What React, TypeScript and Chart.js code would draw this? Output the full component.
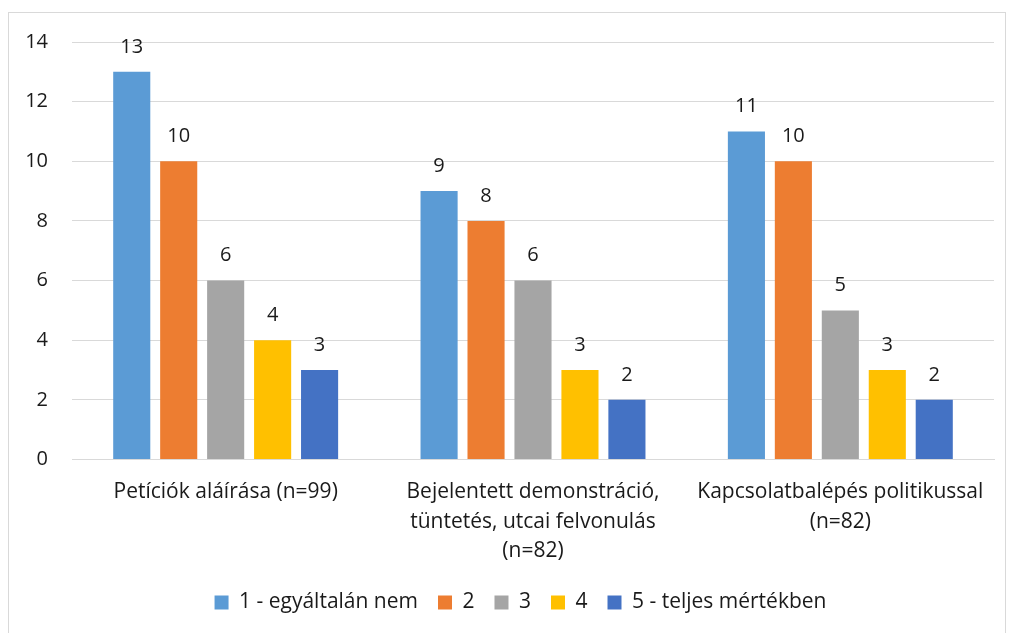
import React, { useEffect, useRef } from "react";
import { Chart, registerables } from "chart.js";

Chart.register(...registerables);

const categories: string[][] = [
  ["Petíciók aláírása (n=99)"],
  ["Bejelentett demonstráció,", "tüntetés, utcai felvonulás", "(n=82)"],
  ["Kapcsolatbalépés politikussal", "(n=82)"],
];
const seriesNames = ["1 - egyáltalán nem", "2", "3", "4", "5 - teljes mértékben"];
const s1 = [13, 9, 11];
const s2 = [10, 8, 10];
const s3 = [6, 6, 5];
const s4 = [4, 3, 3];
const s5 = [3, 2, 2];
const colors = ["#5B9BD5", "#ED7D31", "#A5A5A5", "#FFC000", "#4472C4"];

const FONT = "'Open Sans', Lato, sans-serif";
const TEXT = "#1a1a1a";
const LEGEND_SHIFT_Y = -4;
const LEGEND_SHIFT_X = 14;

const labelPlugin = {
  id: "barLabels",
  afterDatasetsDraw(chart: any) {
    const ctx = chart.ctx;
    ctx.save();
    ctx.font = `20px ${FONT}`;
    ctx.fillStyle = TEXT;
    ctx.textAlign = "center";
    ctx.textBaseline = "middle";
    chart.data.datasets.forEach((ds: any, i: number) => {
      const meta = chart.getDatasetMeta(i);
      meta.data.forEach((bar: any, j: number) => {
        ctx.fillText(String(ds.data[j]), bar.x, bar.y - 25);
      });
    });
    ctx.restore();
  },
};

const legendShiftPlugin = {
  id: "legendShift",
  afterInit(chart: any) {
    const lg = chart.legend;
    if (!lg || lg._shifted) return;
    const orig = lg.draw.bind(lg);
    lg.draw = function (...args: any[]) {
      const ctx = chart.ctx;
      ctx.save();
      ctx.translate(LEGEND_SHIFT_X, LEGEND_SHIFT_Y);
      orig(...args);
      ctx.restore();
    };
    lg._shifted = true;
  },
};

export default function App() {
  const ref = useRef<HTMLCanvasElement | null>(null);
  useEffect(() => {
    if (!ref.current) return;
    const all = [s1, s2, s3, s4, s5];
    const chart = new Chart(ref.current, {
      type: "bar",
      data: {
        labels: categories,
        datasets: all.map((d, i) => ({
          label: seriesNames[i],
          data: d,
          backgroundColor: colors[i],
          borderWidth: 0,
          categoryPercentage: 0.764,
          barPercentage: 0.79,
        })),
      },
      options: {
        animation: false,
        responsive: false,
        maintainAspectRatio: false,
        layout: { padding: { top: 29, left: 10, right: 11, bottom: 24 } },
        plugins: {
          tooltip: { enabled: false },
          legend: {
            position: "bottom",
            labels: {
              boxWidth: 14,
              boxHeight: 14,
              padding: 20,
              color: TEXT,
              font: { family: FONT, size: 21 },
            },
          },
        },
        scales: {
          x: {
            grid: { display: false },
            border: { display: true, color: "#d9d9d9" },
            ticks: {
              color: TEXT,
              font: { family: FONT, size: 21, lineHeight: 1.405 },
              padding: 10,
              maxRotation: 0,
              autoSkip: false,
            },
          },
          y: {
            min: 0,
            max: 14,
            ticks: {
              stepSize: 2,
              color: TEXT,
              font: { family: FONT, size: 20 },
              padding: 24,
            },
            grid: { color: "#d9d9d9", drawTicks: false },
            border: { display: false },
            afterFit: (s: any) => {
              s.width = 53;
              s.paddingTop = 0;
            },
          },
        },
      },
      plugins: [labelPlugin, legendShiftPlugin],
    });
    return () => chart.destroy();
  }, []);
  return (
    <div
      style={{
        marginTop: 4,
        width: 998,
        height: 640,
        border: "1px solid #d9d9d9",
        boxSizing: "border-box",
      }}
    >
      <canvas ref={ref} width={996} height={638} style={{ display: "block" }} />
    </div>
  );
}
